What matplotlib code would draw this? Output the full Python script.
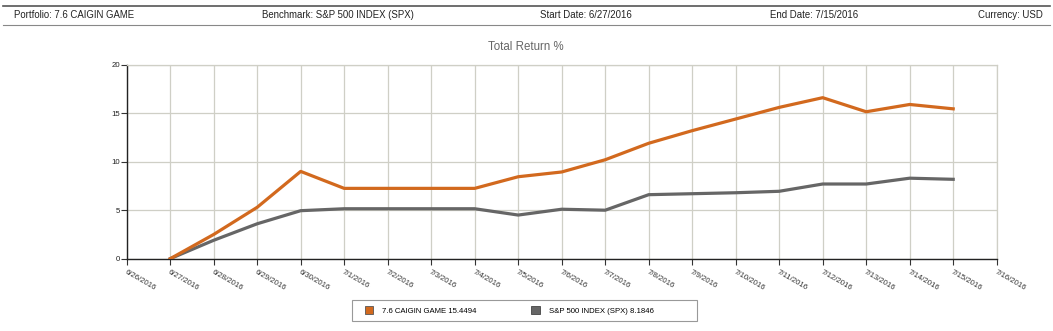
import matplotlib
matplotlib.use("Agg")
import matplotlib.pyplot as plt
from matplotlib.patches import Patch, Rectangle
from matplotlib.lines import Line2D
import numpy as np

# Daily axis labels (6/26/2016 .. 7/16/2016)
date_labels = ["6/26/2016", "6/27/2016", "6/28/2016", "6/29/2016", "6/30/2016",
               "7/1/2016", "7/2/2016", "7/3/2016", "7/4/2016", "7/5/2016",
               "7/6/2016", "7/7/2016", "7/8/2016", "7/9/2016", "7/10/2016",
               "7/11/2016", "7/12/2016", "7/13/2016", "7/14/2016", "7/15/2016",
               "7/16/2016"]

# Series start on 6/27/2016 and end on 7/15/2016
portfolio_name = "7.6 CAIGIN GAME"
portfolio_return = [0.0, 2.5, 5.3, 9.0, 7.25, 7.25, 7.25, 7.25, 8.45, 8.94,
                    10.2, 11.9, 13.2, 14.4, 15.6, 16.6, 15.15, 15.9, 15.4494]
benchmark_name = "S&P 500 INDEX (SPX)"
benchmark_return = [0.0, 1.9, 3.6, 4.95, 5.15, 5.15, 5.15, 5.15, 4.5, 5.1,
                    5.0, 6.6, 6.7, 6.8, 6.95, 7.7, 7.7, 8.3, 8.1846]

y_ticks = [0, 5, 10, 15, 20]

header_items = ["Portfolio: 7.6 CAIGIN GAME", "Benchmark: S&P 500 INDEX (SPX)",
                "Start Date: 6/27/2016", "End Date: 7/15/2016", "Currency: USD"]

W, H = 1053, 331
fig = plt.figure(figsize=(W / 100, H / 100), dpi=100)
plt.rcParams["font.family"] = ["Liberation Sans", "DejaVu Sans"]

# Header band
fig.add_artist(Line2D([3 / W, 1050 / W], [1 - 6 / H, 1 - 6 / H],
                      transform=fig.transFigure, color="#555555", lw=1.2))
fig.add_artist(Line2D([3 / W, 1050 / W], [1 - 25 / H, 1 - 25 / H],
                      transform=fig.transFigure, color="#888888", lw=0.8))
hx = [14, 262, 540, 770]
for x, txt in zip(hx, header_items[:4]):
    fig.text(x / W, 1 - 15.5 / H, txt, fontsize=6.9, color="#222222",
             ha="left", va="center")
fig.text(1043 / W, 1 - 15.5 / H, header_items[4], fontsize=6.9, color="#222222",
         ha="right", va="center")

fig.text(526 / W, 1 - 46.5 / H, "Total Return %", fontsize=8.3, color="#666666",
         ha="center", va="center")

left, right = 126.7 / W, 996.7 / W
bottom, top = 1 - 258.7 / H, 1 - 64.7 / H
ax = fig.add_axes([left, bottom, right - left, top - bottom])

x_all = np.arange(len(date_labels))
x_series = x_all[1:1 + len(portfolio_return)]

orange = "#D2691E"
grey = "#666666"
ax.plot(x_series, benchmark_return, color=grey, lw=2.3, solid_joinstyle="round",
        zorder=3)
ax.plot(x_series, portfolio_return, color=orange, lw=2.3, solid_joinstyle="round",
        zorder=4)

ax.set_xlim(0, len(date_labels) - 1)
ax.set_ylim(0, 20)
ax.set_xticks(x_all)
ax.set_xticklabels(date_labels, rotation=-30, rotation_mode="anchor",
                   ha="left", va="top", fontsize=5.6, color="#333333")
for lbl in ax.get_xticklabels():
    lbl.set_x(lbl.get_position()[0])
ax.set_yticks(y_ticks)
ax.set_yticklabels([str(v) for v in y_ticks], fontsize=5.6, color="#222222")
ax.tick_params(axis="x", length=4, width=0.8, color="#333333", pad=3)
ax.tick_params(axis="y", length=4, width=0.8, color="#333333", pad=1)
ax.grid(True, color="#cfcfc6", lw=0.9, zorder=0)
ax.set_axisbelow(True)
for s in ("top", "right"):
    ax.spines[s].set_color("#cfcfc6")
    ax.spines[s].set_linewidth(0.9)
for s in ("left", "bottom"):
    ax.spines[s].set_color("#222222")
    ax.spines[s].set_linewidth(1.0)

# Legend box with the two series and their final values
fig.add_artist(Rectangle((352 / W, 1 - 321 / H), 345 / W, 21 / H,
                         transform=fig.transFigure, facecolor="white",
                         edgecolor="#999999", lw=0.8))
handles = [Patch(facecolor=orange, edgecolor="#555555", lw=0.6),
           Patch(facecolor=grey, edgecolor="#444444", lw=0.6)]
labels = [f"{portfolio_name} {portfolio_return[-1]:.4f}",
          f"{benchmark_name} {benchmark_return[-1]:.4f}"]
leg = fig.legend(handles, labels, ncol=2, loc="center left",
                 bbox_to_anchor=(365 / W, 1 - 310.5 / H),
                 fontsize=5.6, frameon=False,
                 handlelength=1.05, handleheight=1.1, handletextpad=1.2,
                 borderaxespad=0, borderpad=0, columnspacing=7.0)

fig.savefig("out.png", dpi=100)
